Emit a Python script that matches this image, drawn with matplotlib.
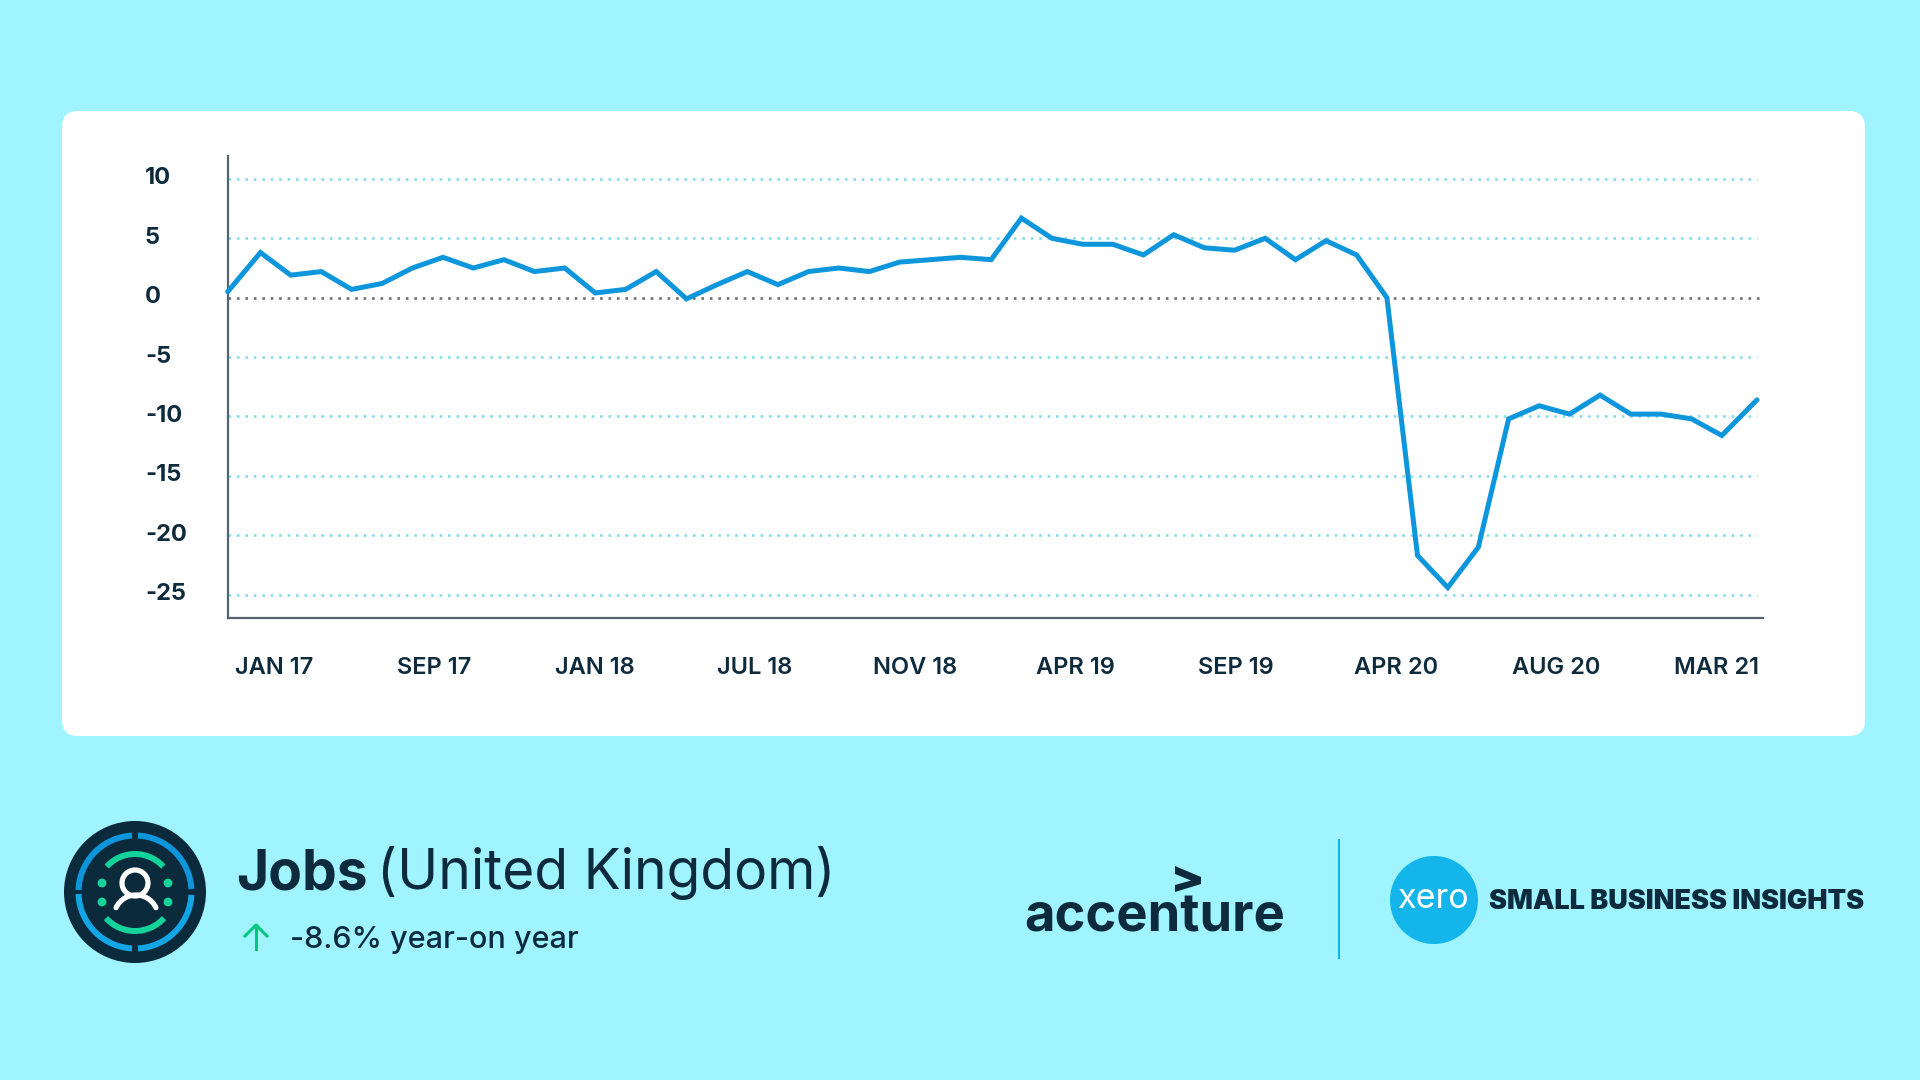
import matplotlib
matplotlib.use("Agg")
import matplotlib.pyplot as plt
from matplotlib.patches import FancyBboxPatch, Circle, Arc, Polygon
from matplotlib.transforms import ScaledTranslation

x_pos = [0, 1.07, 2.06, 3.06, 4.05, 5.05, 6.04, 7.04, 8.03, 9.03, 10.03, 11.02, 12.02, 13.01, 14.01, 15.00,
         16.00, 16.99, 17.99, 18.99, 19.98, 20.98, 21.97, 22.97, 23.96, 24.96, 25.95, 26.95, 27.95, 28.94, 29.94, 30.93,
         31.93, 32.92, 33.92, 34.91, 35.91, 36.91, 37.90, 38.90, 39.89, 40.89, 41.88, 42.88, 43.87, 44.87,
         45.87, 46.86, 47.86, 48.85, 50]
values = [0.5, 3.8, 1.9, 2.2, 0.7, 1.2, 2.5, 3.4, 2.5, 3.2, 2.2, 2.5, 0.4, 0.7, 2.2, -0.1,
          1.1, 2.2, 1.1, 2.2, 2.5, 2.2, 3.0, 3.2, 3.4, 3.2, 6.7, 5.0, 4.5, 4.5, 3.6, 5.3,
          4.2, 4.0, 5.0, 3.2, 4.8, 3.6, 0.0, -21.7, -24.4, -21.0, -10.2, -9.1, -9.8, -8.2,
          -9.8, -9.8, -10.2, -11.6, -8.6]
x_labels = ["JAN 17", "SEP 17", "JAN 18", "JUL 18", "NOV 18", "APR 19", "SEP 19", "APR 20", "AUG 20", "MAR 21"]
x_label_pos = [1.52, 6.76, 12.0, 17.24, 22.48, 27.72, 32.96, 38.2, 43.44, 48.68]
y_ticks = [10, 5, 0, -5, -10, -15, -20, -25]

BG = "#A0F4FF"
INK = "#0E2B3D"
BLUE = "#0D96DC"
CYAN = "#13B5EA"
GREEN = "#14D39A"
FONT = "Inter"
W, H = 1920, 1080
PT = 72 / 100  # points per pixel at dpi 100

plt.rcParams["font.family"] = [FONT, "DejaVu Sans"]
fig = plt.figure(figsize=(19.2, 10.8), dpi=100, facecolor=BG)

# page furniture, in pixel coordinates
bg = fig.add_axes([0, 0, 1, 1], zorder=0)
bg.set_xlim(0, W)
bg.set_ylim(H, 0)
bg.axis("off")
bg.add_patch(FancyBboxPatch((74, 123), 1779, 601, boxstyle="round,pad=12,rounding_size=16",
                            fc="white", ec="none"))

# chart
L, R, T, B = 227.7, 1763, 156, 617.7
ax = fig.add_axes([L / W, 1 - B / H, (R - L) / W, (B - T) / H], zorder=1)
ax.patch.set_alpha(0)
ax.set_xlim(0, 50.196)
ax.set_ylim(-26.94, 11.93)
for s in ("top", "right"):
    ax.spines[s].set_visible(False)
for s in ("left", "bottom"):
    ax.spines[s].set_color("#55656F")
    ax.spines[s].set_linewidth(1.6)
for v in y_ticks:
    if v == 0:
        ax.plot([0, 50.196], [v, v], color="#707070", lw=1.9, ls=(0, (1, 2.2)), zorder=2)
    else:
        ax.plot([0, 50], [v, v], color="#86DEEB", lw=1.9, ls=(0, (1, 2.2)), zorder=2)
ax.plot(x_pos, values, color=BLUE, lw=3.6, solid_joinstyle="miter",
        solid_capstyle="round", zorder=3, clip_on=False)
ax.set_yticks(y_ticks)
ax.set_yticklabels([str(v) for v in y_ticks], ha="left", fontsize=17, fontweight="bold", color=INK)
ax.tick_params(axis="y", length=0, pad=82.7 * PT)
up = ScaledTranslation(0, 3 / 100, fig.dpi_scale_trans)
for lab in ax.get_yticklabels():
    lab.set_transform(lab.get_transform() + up)
ax.set_xticks(x_label_pos)
ax.set_xticklabels(x_labels, fontsize=17, fontweight="semibold", color=INK)
ax.tick_params(axis="x", length=0, pad=39.5 * PT)

# footer left: icon
cx, cy = 135, 892
bg.add_patch(Circle((cx, cy), 71, fc="#0B2A3C", ec="none"))
for a1, a2, col in [(3, 87, "#0D96DC"), (93, 178, "#0D96DC"), (182, 267, "#13A6E6"), (273, 357, "#13A6E6")]:
    a1, a2 = -a2, -a1
    bg.add_patch(Arc((cx, cy), 113, 113, theta1=a1, theta2=a2, color=col, lw=6 * PT))
bg.add_patch(Arc((cx, cy), 76, 76, theta1=222, theta2=318, color=GREEN, lw=6 * PT))
bg.add_patch(Arc((cx, cy), 78, 78, theta1=42, theta2=138, color=GREEN, lw=6 * PT))
for dx in (-33, 33):
    for dy in (-9, 10):
        bg.add_patch(Circle((cx + dx, cy + dy), 4.4, fc=GREEN, ec="none"))
bg.add_patch(Circle((135, 883), 13, fc="none", ec="white", lw=5.2 * PT))
bg.add_patch(Arc((136, 917), 44, 44, theta1=205, theta2=335, color="white", lw=5.2 * PT, capstyle="round"))

# footer left: text
bg.text(236, 889, "Jobs", fontsize=39.7, fontweight="bold", color=INK, va="baseline")
bg.text(377, 889, "(United Kingdom)", fontsize=39.7, fontweight="normal", color=INK, va="baseline")
bg.text(290, 948, "-8.6% year-on year", fontsize=22, fontweight="medium", color=INK, va="baseline")
bg.plot([256, 256], [925, 949], color="#00C77E", lw=3 * PT)
bg.plot([245, 256, 267], [936, 925, 936], color="#00C77E", lw=3 * PT)

# footer right: logos
bg.text(1024, 932, "accenture", fontsize=37.8, fontweight="bold", color=INK, va="baseline")
bg.add_patch(Polygon([(1175, 866), (1201, 877), (1201, 884), (1175, 892), (1175, 885), (1191, 880.5), (1175, 874)],
                     closed=True, fc=INK, ec="none"))
bg.plot([1339, 1339], [840, 958], color=CYAN, lw=1.5)
bg.add_patch(Circle((1434, 900), 44, fc=CYAN, ec="none"))
bg.text(1434, 899, "xero", fontsize=24.5, fontweight="normal", color="white", ha="center", va="center")
bg.text(1489, 909, "SMALL BUSINESS INSIGHTS", fontsize=19.5, fontweight="black", color=INK, va="baseline")

fig.savefig("out.png", dpi=100, facecolor=BG)
